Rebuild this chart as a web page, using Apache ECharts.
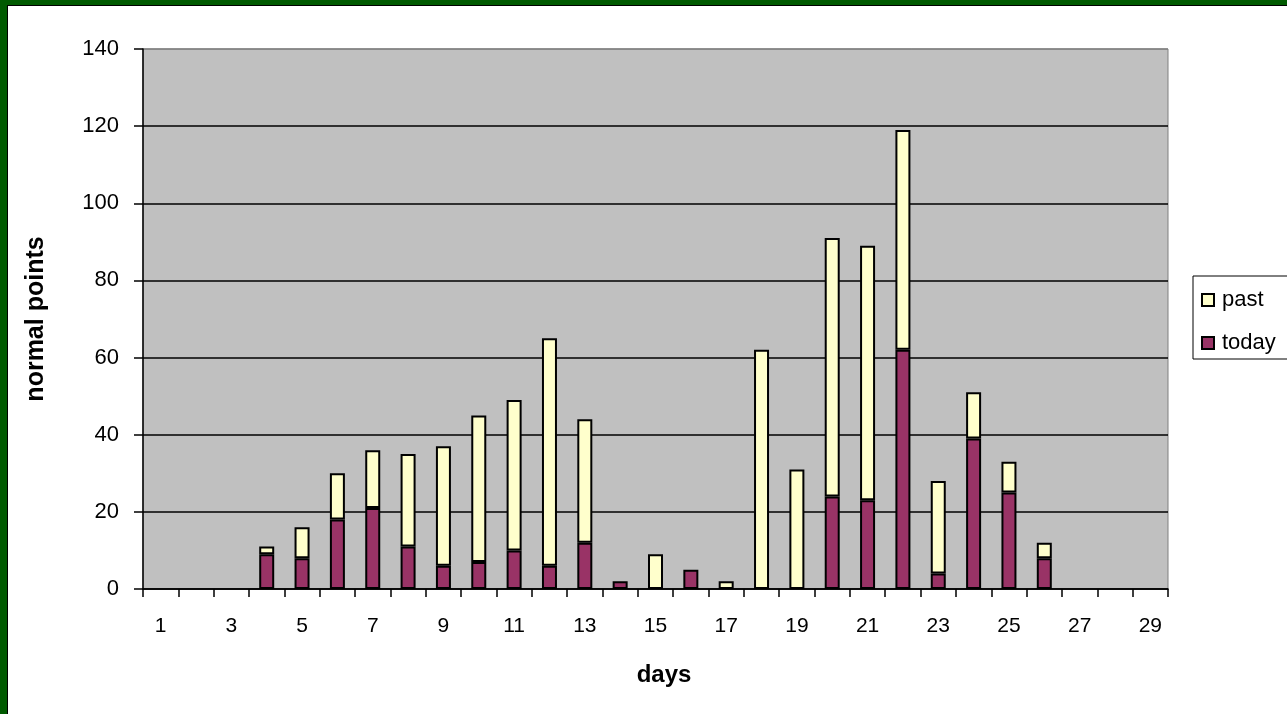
<!DOCTYPE html>
<html>
<head>
<meta charset="utf-8">
<script src="https://cdn.jsdelivr.net/npm/echarts@6/dist/echarts.min.js"></script>
<style>
  html, body { margin: 0; padding: 0; background: #ffffff; }
  #chart { position: absolute; left: 0; top: 0; width: 1287px; height: 714px; }
  .frame-green { position: absolute; left: 0; top: 0; width: 1287px; height: 714px;
    box-sizing: border-box; border-left: 7px solid #005a00; border-top: 5px solid #005a00; pointer-events: none; }
  .frame-black { position: absolute; left: 7px; top: 5px; width: 1280px; height: 709px;
    box-sizing: border-box; border-left: 1.5px solid #000; border-top: 1.5px solid #000; pointer-events: none; }
</style>
</head>
<body>
<div id="chart"></div>
<div class="frame-green"></div>
<div class="frame-black"></div>
<script>
// Days of the month shown on the category axis
const days = ['1','2','3','4','5','6','7','8','9','10','11','12','13','14','15',
              '16','17','18','19','20','21','22','23','24','25','26','27','28','29'];

// Points scored on the day itself (bottom of each stack)
const todayPoints = [null,null,null,9,8,18,21,11,6,7,10,6,12,2,null,
                     5,null,null,null,24,23,62,4,39,25,8,null,null,null];

// Points carried over from earlier days (top of each stack)
const pastPoints = [null,null,null,2,8,12,15,24,31,38,39,59,32,null,9,
                    null,2,62,31,67,66,57,24,12,8,4,null,null,null];

// Value axis ticks
const yMin = 0, yMax = 140, yStep = 20;

const FONT = 'Arial, "Liberation Sans", sans-serif';

const chart = echarts.init(document.getElementById('chart'), null, { renderer: 'canvas' });

chart.setOption({
  animation: false,
  backgroundColor: '#ffffff',
  textStyle: { fontFamily: FONT, color: '#000' },
  grid: {
    left: 143, top: 49, width: 1025, height: 540,
    show: true, backgroundColor: '#c0c0c0', borderColor: '#808080', borderWidth: 1
  },
  legend: {
    orient: 'vertical',
    left: 1193, top: 276,
    padding: [13, 40, 5, 8],
    itemGap: 21,
    itemWidth: 12, itemHeight: 12,
    borderColor: '#000', borderWidth: 1,
    backgroundColor: '#ffffff',
    textStyle: { fontFamily: FONT, fontSize: 22, color: '#000', padding: [0, 0, 0, 3] },
    data: [
      { name: 'past', icon: 'rect', itemStyle: { color: '#ffffcc', borderColor: '#000', borderWidth: 2 } },
      { name: 'today', icon: 'rect', itemStyle: { color: '#993366', borderColor: '#000', borderWidth: 2 } }
    ]
  },
  xAxis: {
    type: 'category',
    data: days,
    boundaryGap: true,
    name: 'days',
    nameLocation: 'middle',
    nameGap: 74,
    nameTextStyle: { fontFamily: FONT, fontSize: 24, fontWeight: 'bold', color: '#000', padding: [0, 0, 0, 17] },
    axisLine: { show: true, lineStyle: { color: '#000', width: 1.5 } },
    axisTick: { show: true, interval: 0, length: 8, lineStyle: { color: '#000', width: 1.5 } },
    axisLabel: { interval: 1, margin: 27, fontFamily: FONT, fontSize: 21, color: '#000' },
    splitLine: { show: false }
  },
  yAxis: {
    type: 'value',
    min: yMin, max: yMax, interval: yStep,
    name: 'normal points',
    nameLocation: 'middle',
    nameGap: 94,
    nameTextStyle: { fontFamily: FONT, fontSize: 25, fontWeight: 'bold', color: '#000' },
    axisLine: { show: true, lineStyle: { color: '#000', width: 1.5 } },
    axisTick: { show: true, length: 9, lineStyle: { color: '#000', width: 1.5 } },
    axisLabel: { margin: 24, fontFamily: FONT, fontSize: 22, color: '#000' },
    splitLine: {
      show: true,
      lineStyle: { color: ['#000', '#000', '#000', '#000', '#000', '#000', '#000', '#808080'], width: 1.5 }
    }
  },
  series: [
    {
      name: 'today', type: 'bar', stack: 'points', data: todayPoints,
      barWidth: 15,
      itemStyle: { color: '#993366', borderColor: '#000', borderWidth: 2 }
    },
    {
      name: 'past', type: 'bar', stack: 'points', data: pastPoints,
      barWidth: 15,
      itemStyle: { color: '#ffffcc', borderColor: '#000', borderWidth: 2 }
    }
  ]
});
</script>
</body>
</html>
